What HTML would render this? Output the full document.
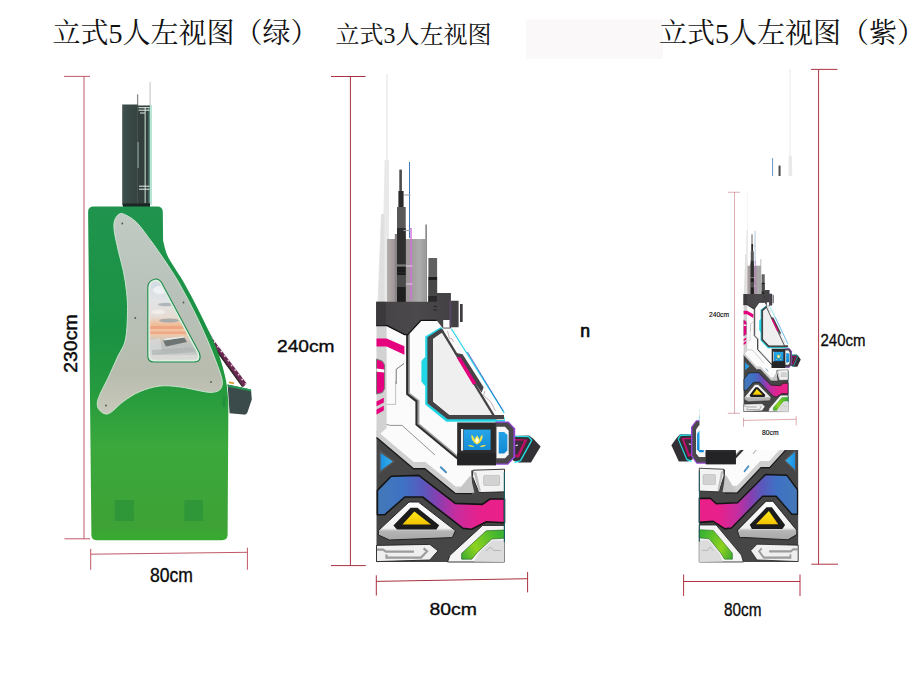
<!DOCTYPE html>
<html><head><meta charset="utf-8"><title>cabinet views</title>
<style>
html,body{margin:0;padding:0;background:#fff;overflow:hidden}
svg{display:block}
text{font-family:"Liberation Sans",sans-serif;fill:#0a0a0a}
</style></head>
<body>
<svg width="917" height="688" viewBox="0 0 917 688">
<defs>
<linearGradient id="ggreen" x1="0" y1="206" x2="0" y2="540" gradientUnits="userSpaceOnUse"><stop offset="0" stop-color="#20944e"/><stop offset=".38" stop-color="#1a9242"/><stop offset=".55" stop-color="#269a3e"/><stop offset=".72" stop-color="#3aa83c"/><stop offset=".96" stop-color="#3ea236"/><stop offset="1" stop-color="#36ac30"/></linearGradient>
<linearGradient id="gsilver" x1="0" y1="214" x2="0" y2="414" gradientUnits="userSpaceOnUse"><stop offset="0" stop-color="#c2cac4"/><stop offset=".4" stop-color="#b8c1ba"/><stop offset=".8" stop-color="#b8bcae"/><stop offset="1" stop-color="#c8c9ba"/></linearGradient>
<linearGradient id="gsign" x1="122" y1="0" x2="138" y2="0" gradientUnits="userSpaceOnUse"><stop offset="0" stop-color="#42524f"/><stop offset=".3" stop-color="#3a4a48"/><stop offset="1" stop-color="#364440"/></linearGradient>
<linearGradient id="gwin" x1="0" y1="280" x2="0" y2="362" gradientUnits="userSpaceOnUse"><stop offset="0" stop-color="#d2dae4"/><stop offset=".25" stop-color="#e2e4e6"/><stop offset=".45" stop-color="#e6dcd4"/><stop offset=".55" stop-color="#f0bc96"/><stop offset=".66" stop-color="#f2c8a6"/><stop offset=".72" stop-color="#d4c8ba"/><stop offset=".8" stop-color="#bcc0c0"/><stop offset="1" stop-color="#d2d4d0"/></linearGradient>
<linearGradient id="gmetal" x1="387" y1="0" x2="425.5" y2="0" gradientUnits="userSpaceOnUse"><stop offset="0" stop-color="#b4aeac"/><stop offset=".25" stop-color="#9a9192"/><stop offset=".6" stop-color="#a09a9a"/><stop offset=".85" stop-color="#adadad"/><stop offset="1" stop-color="#9a9a9a"/></linearGradient>
<linearGradient id="gcap" x1="376" y1="0" x2="459" y2="0" gradientUnits="userSpaceOnUse"><stop offset="0" stop-color="#454345"/><stop offset=".5" stop-color="#4b494b"/><stop offset="1" stop-color="#423f44"/></linearGradient>
<linearGradient id="gband" x1="378" y1="0" x2="504" y2="0" gradientUnits="userSpaceOnUse"><stop offset="0" stop-color="#4478b8"/><stop offset=".2" stop-color="#3e72c4"/><stop offset=".36" stop-color="#5a58bc"/><stop offset=".48" stop-color="#8a3eb0"/><stop offset=".62" stop-color="#c82c9e"/><stop offset=".8" stop-color="#e6208c"/><stop offset="1" stop-color="#ea2088"/></linearGradient>
<linearGradient id="gtri" x1="0" y1="503" x2="0" y2="542" gradientUnits="userSpaceOnUse"><stop offset="0" stop-color="#fdfdfd"/><stop offset=".65" stop-color="#f0f0f0"/><stop offset=".72" stop-color="#b5b5b5"/><stop offset="1" stop-color="#a4a4a4"/></linearGradient>
<linearGradient id="gyellow" x1="0" y1="512" x2="0" y2="525" gradientUnits="userSpaceOnUse"><stop offset="0" stop-color="#ffe81a"/><stop offset="1" stop-color="#f2c200"/></linearGradient>
<linearGradient id="gbluetri" x1="380" y1="0" x2="393" y2="0" gradientUnits="userSpaceOnUse"><stop offset="0" stop-color="#1a8ee0"/><stop offset="1" stop-color="#35b4f0"/></linearGradient>
<linearGradient id="ggreenel" x1="456" y1="560" x2="500" y2="534" gradientUnits="userSpaceOnUse"><stop offset="0" stop-color="#1f9e38"/><stop offset=".45" stop-color="#8fd21e"/><stop offset="1" stop-color="#3cb432"/></linearGradient>
<linearGradient id="gbluescr" x1="0" y1="429" x2="0" y2="452" gradientUnits="userSpaceOnUse"><stop offset="0" stop-color="#27a6ea"/><stop offset="1" stop-color="#138ad4"/></linearGradient>

<g id="cab">
<!-- tower -->
<rect x="386.5" y="74" width="1" height="92" fill="#e2e2e2"/>
<path d="M384.6 160H389V302H377.4L381 214H383.4Z" fill="#e9e9e9"/>
<path d="M381.4 214H384.4V302H378.2Z" fill="#dfdfdf"/>
<rect x="387" y="239" width="38.5" height="63" fill="url(#gmetal)"/>
<rect x="394.8" y="234" width="2.4" height="68" fill="#8b8587"/>
<rect x="399.3" y="169.6" width="2.6" height="22" fill="#4c4c4c"/>
<rect x="398.4" y="191" width="5.2" height="16.5" fill="#2a2a2a"/>
<rect x="397" y="207" width="8.7" height="95" fill="#585858"/>
<rect x="397" y="228" width="8.7" height="36.5" fill="#2e2e2e"/>
<rect x="397" y="264.5" width="8.7" height="2.2" fill="#7a7a7a"/>
<rect x="397" y="266.7" width="8.7" height="6" fill="#1c1c1c"/>
<rect x="397" y="272.7" width="8.7" height="2.5" fill="#1c1c1c"/>
<rect x="397" y="275.2" width="8.7" height="12" fill="#4a4a4a"/>
<rect x="397" y="287" width="8.7" height="15" fill="#1e1e1e"/>
<line x1="409.5" y1="162" x2="409.5" y2="238" stroke="#3b78b4" stroke-width="1"/>
<line x1="411" y1="228" x2="411" y2="300" stroke="#d070dc" stroke-width="1.4"/>
<path d="M403.5 195H410.5M403.5 230.5H410.5" stroke="#9aa4b0" stroke-width="1"/>
<path d="M406 266H412.5M406 284H412.5" stroke="#e8c8f0" stroke-width="1.2"/>
<rect x="425.3" y="224.5" width="1.7" height="78" fill="#8c8c8c"/>
<rect x="428.4" y="258" width="8.7" height="44" fill="#606060"/>
<rect x="428.4" y="277" width="8.7" height="3.4" fill="#1e1e1e"/>
<rect x="428.4" y="280.4" width="8.7" height="21.6" fill="#474747"/>
<rect x="428.4" y="296" width="8.7" height="6" fill="#2a2a2a"/>
<!-- body silhouette (white) -->
<path d="M376.5 320H452L504 414.5L504.5 472V562H376.5Z" fill="#fbfbfb"/>
<!-- left gray column -->
<path d="M376.5 325H386.6V428L376.5 437Z" fill="#d2d2d2"/>
<!-- pink stripes -->
<path d="M376.5 338.5H386.6L404.4 346.2V354.8L386.6 346.6H376.5Z" fill="#e5007e"/>
<path d="M376.5 359L382.4 361.2L384.6 365V388.5L382.4 392.6L376.5 394Z" fill="#e5007e" stroke="#7a7a7a" stroke-width="1"/>
<path d="M376.5 368.6L384.2 369.6V372.6L376.5 371.8Z" fill="#fff"/>
<path d="M376.5 401.5L383.8 397.8V402.4L376.5 406.2Z" fill="#e5007e"/>
<path d="M376.5 409.6L383.8 405.8V410.6L376.5 414.4Z" fill="#e5007e"/>
<!-- inner thin lines -->
<path d="M404 363.5L396.2 369.3V384" stroke="#555" stroke-width=".8" fill="none"/>
<path d="M386.7 404.4H395.6V381" stroke="#999" stroke-width=".6" fill="none"/>
<!-- boundary thick line left panel / window surround -->
<path d="M409 334V393.5L418.4 400.8V424L458 457" stroke="#a0a0a0" stroke-width="2" fill="none"/>
<path d="M407.2 334V394L416.5 401.3V424.6L457.5 458.5" stroke="#2e2e2e" stroke-width="2.2" fill="none"/>
<!-- cyan around window -->
<path d="M425.2 336.6L441 327.1L443.5 330L431 340V402.5L449 417.5H505V421.7H446.4L425.2 404.4Z" fill="#22d6e6"/>
<path d="M442 328.6L451.4 328.8L504.3 413L504.3 420H497Z" fill="#fcfcfc"/>
<path d="M451.4 328.8L504.3 413" stroke="#22d6e6" stroke-width="1.2"/>
<path d="M421.4 361L424.5 357.5H428V385.5H424.5L421.4 381.5Z" fill="#22d6e6"/>
<!-- blue thin line -->
<path d="M467.4 352L503.3 411" stroke="#2a4cc4" stroke-width=".8"/>
<path d="M447.5 331L449.5 338.5L452 338.8L453.5 342" stroke="#8a6a6a" stroke-width=".5" fill="none"/>
<path d="M485 391L483.5 395.5L490.5 401.5L495.5 411" stroke="#8a6a6a" stroke-width=".5" fill="none"/>
<!-- window frame dark -->
<path d="M427.4 337.2L441 328.4L444 331.6L433 339V401.5L449.6 415H504V419.2H447.6L427.4 403.2Z" fill="#454345"/>
<path d="M433 339L441.5 333L491.8 415H449.6L433 401.4Z" fill="#efefef"/>
<path d="M441.2 329.4L494 416" stroke="#454345" stroke-width="2.4"/>
<path d="M454 352.6L462.6 354.2L483.6 387.2L481.6 392.4Z" fill="#454345"/>
<path d="M456.8 357.8L460.4 357L476.4 383.2L473 384.8Z" fill="#e5007e"/>
<!-- lower dark region -->
<path d="M376.5 437.5L413.5 468.8H424.8L455 493.4L472 493.6L471.2 470.5H504.5V562H376.5Z" fill="#464646"/>
<!-- light gray bevel above dark region -->
<path d="M376.5 430.5L413.8 462H425.4L455.6 486.6L469.5 486.8L472.5 493.6L455 493.4L424.8 468.8H413.5L376.5 437.5Z" fill="#cfcfcf"/>
<path d="M376.5 437.5L413.5 468.8H424.8L455 493.4L472 493.6" stroke="#1a1a1a" stroke-width="1.4" fill="none"/>
<path d="M386.6 424.5L390.5 425.4H402L435 455" stroke="#666" stroke-width=".7" fill="none"/>
<path d="M440.8 467.2L446 472.2" stroke="#4a90c0" stroke-width="2" stroke-linecap="round"/>
<path d="M470.4 475.4L474.4 492.8L456 493Z" fill="#c6c6c6"/>
<!-- blue triangle -->
<path d="M379.4 449.5L395.2 461.6L379.4 473.5Z" fill="#565656"/>
<path d="M380.6 453L392.8 461.6L380.6 470.6Z" fill="url(#gbluetri)"/>
<!-- color band -->
<path d="M377.4 490.4L391.2 476.2L418.8 475.4L455.2 503.4L482.4 504.4L490 499H504.5V522.8L486.4 521.8L471.6 529.2L463 528.4L422.6 497L404.8 497L384.6 514.8H377.4Z" fill="url(#gband)" stroke="#141414" stroke-width="1.6" stroke-linejoin="round"/>
<!-- triangle element -->
<path d="M409 502H418.4L455.4 530.6L452.4 537.6L389.5 540L378.4 535V530.6Z" fill="url(#gtri)" stroke="#222" stroke-width="1" stroke-linejoin="round"/>
<path d="M410.8 506.5H421.5L448 531L380.6 534Z" fill="#fafafa" opacity=".0"/>
<path d="M410.6 507.8H417.4L439.2 525.2L436.4 529.4H397L393.4 525.4Z" fill="#1c1c1c"/>
<path d="M414.4 511.6L431 524.6H402.4Z" fill="url(#gyellow)"/>
<!-- bottom-left white G element -->
<path d="M376.5 545.4L429.8 544.4L438 550.8L429.8 560L376.5 561.6Z" fill="#efefef" stroke="#222" stroke-width=".9"/>
<path d="M377 549.6H383L386 551.6H414M386.5 554.4V557.6H421L427 551.4L423.6 548.4" fill="none" stroke="#9c9c9c" stroke-width="2.2"/>
<!-- green element bottom right -->
<path d="M447.5 562L450 555.2L482.6 525.4H504.5V562Z" fill="#f4f4f4" stroke="#222" stroke-width=".9"/>
<path d="M461.6 559.2V553.4L486.2 530.8L504.5 530V538.2L491.8 539L477.2 552.6L471.8 559.2Z" fill="url(#ggreenel)" stroke="#1c5a1c" stroke-width=".6"/>
<path d="M474 561.5L478.6 553.2L492.4 540.4H504.5V562Z" fill="#dcdcdc"/>
<path d="M486 551L490.5 547L493.5 550.5H501" stroke="#aaa" stroke-width=".8" fill="none"/>
<!-- white block under housing -->
<path d="M473 470.2L504.5 469.2V491.8L479 492.6L472.4 476.4Z" fill="#f3f3f3" stroke="#222" stroke-width=".9"/>
<path d="M473.4 472L476.4 472.4L481 491.6L479 492Z" fill="#bdbdbd"/>
<rect x="483.6" y="475.4" width="16" height="10" rx="1" fill="#d2d2d2" stroke="#aaa" stroke-width=".5"/>
<!-- right edge line -->
<rect x="503.8" y="472" width="1.2" height="70" fill="#1a5a60"/>
<!-- cap -->
<path d="M376.2 301.8H437V293H450.9V300.8H458.6V327.2H451.5L450.5 328.6H443L436.8 320.4H421L407.8 334.8H404.6L386.6 325.8H376.2Z" fill="url(#gcap)"/>
<path d="M376.2 325.5H386.6L404.6 334.6H407.8L421 320.3H436.8" stroke="#111" stroke-width="1.3" fill="none"/>
<rect x="376.2" y="301.8" width="9.6" height="23.6" fill="#3b393b"/>
<rect x="443.2" y="320" width="6.6" height="7.6" fill="#fff"/>
<rect x="460" y="304" width="2.7" height="18" fill="#3e3c40"/>
<path d="M433.5 306.5H437M433.5 310H437" stroke="#222" stroke-width="1.2"/>
<rect x="449.6" y="301" width="1.6" height="26" fill="#5a4868"/>
<!-- joystick -->
<path d="M513 435.9L529.2 435.5L533.6 439L540.6 446.4L531 462.6H518.8L513 460.4Z" fill="#323034"/>
<path d="M515 439L527.5 439.4L518.8 457.8L515 456.8Z" fill="#c0106a"/>
<path d="M515 440.6L524.2 440.4L517.4 455L515 454.4Z" fill="#3a2c3a"/>
<path d="M514.5 436.4L528.8 436.6L531.7 440.3L520.5 460.6L514.5 462.4" stroke="#22dce6" stroke-width="1.4" fill="none" stroke-linejoin="round"/>
<path d="M515.5 445.6L518 445" stroke="#fff" stroke-width="1"/>
<!-- housing -->
<path d="M495.6 421.6H508.6L515.2 428.4V457.2L508 464.8H495.6Z" fill="#9344d4"/>
<path d="M457.2 422.6H496V465.2H457.2Z" fill="#2c2c2e"/>
<path d="M495.7 422.8H508L513.4 428.6V456.8L507.4 463.6H495.7Z" fill="#4a484b"/>
<path d="M496.5 426.8H505L508.7 430.8V454.4L505 458.2H496.5Z" fill="#f6f6f6"/>
<path d="M498.7 432H504.2L507.4 435V450.4L504.2 453.4H498.7Z" fill="url(#gbluescr)"/>
<rect x="461" y="429" width="2.2" height="21.6" fill="#f0f0f0"/>
<rect x="463.6" y="429.6" width="27" height="20.4" fill="url(#gbluescr)"/>
<path d="M471.5 434.6Q470.5 441.5 477 444.6Q483.5 441.5 482.5 434.6Q480 436 479.8 439.6L477 435.2L474.2 439.6Q474 436 471.5 434.6Z" fill="#f2e24a"/>
<path d="M477 437.2L478.8 440.6L477 443.4L475.2 440.6Z" fill="#fff"/>
<path d="M467.8 445.2Q471.5 444.2 474.5 446.6Q470.5 447.6 467.8 445.2ZM486.2 445.2Q482.5 444.2 479.5 446.6Q483.5 447.6 486.2 445.2Z" fill="#f2e24a"/>
<rect x="457.2" y="453" width="38.8" height="12.2" fill="#242426"/>
</g>

<g id="mid">
<g stroke="#a83040" stroke-width="1" fill="none"><path d="M331 76.5H365.5M350.4 76.5V565.6M331 565.6H365.8"/><path d="M376.3 581.4L527.6 578.7M376.3 575.3V595.5M527.6 572V592.4"/></g>
<use href="#cab"/>
<text x="277" y="351.5" font-size="16.3" textLength="57.5" lengthAdjust="spacingAndGlyphs" stroke="#0a0a0a" stroke-width=".35">240cm</text>
<text x="429.5" y="614.6" font-size="17.2" textLength="47.5" lengthAdjust="spacingAndGlyphs" stroke="#0a0a0a" stroke-width=".35">80cm</text>
</g>
</defs>
<rect width="917" height="688" fill="#fff"/>
<rect x="526" y="19.5" width="137" height="39.5" fill="#fbf8f9"/>
<!-- titles -->
<text x="52.5" y="43" font-size="28" textLength="266" lengthAdjust="spacingAndGlyphs" style="font-family:'Liberation Serif','Noto Serif CJK SC',serif;fill:#111">立式5人左视图（绿）</text>
<text x="335.5" y="42.5" font-size="24" textLength="156" lengthAdjust="spacingAndGlyphs" style="font-family:'Liberation Serif','Noto Serif CJK SC',serif;fill:#111">立式3人左视图</text>
<text x="659" y="43" font-size="28" textLength="266" lengthAdjust="spacingAndGlyphs" style="font-family:'Liberation Serif','Noto Serif CJK SC',serif;fill:#111">立式5人左视图（紫）</text>
<g stroke="#c05868" stroke-width="1" fill="none"><path d="M64 76.4H90M84 76.4V538.8M64.5 538.8H90"/><path d="M90.7 554.2L247.4 552.3M90.7 548.8V569.8M247.4 547.7V569.8"/></g>
<g>
<line x1="150.1" y1="82" x2="150.1" y2="106" stroke="#cfcfcf" stroke-width="1.3"/>
<line x1="137.6" y1="94.3" x2="137.6" y2="106" stroke="#8a8a8a" stroke-width="1.3"/>
<rect x="149.2" y="105" width="2.8" height="100" fill="#a8dcc8" opacity=".8"/>
<rect x="122.2" y="104.5" width="15.6" height="101" fill="url(#gsign)"/>
<rect x="137.5" y="105.5" width="12.3" height="100" fill="#333f3c"/>
<rect x="137.4" y="142" width="1.4" height="26" fill="#8fa8a0" opacity=".8"/>
<rect x="144.6" y="107" width="1.1" height="96" fill="#c4d6ce"/>
<rect x="148.6" y="107" width="1.2" height="96" fill="#5a9884"/>
<path d="M138.5 107.7H149.5M138.5 110.2H149.5M140 113H145M139 186.2H149.5M139 189.2H149.5" stroke="#e8f0ec" stroke-width="1"/>
<rect x="123" y="203.5" width="27" height="3.5" fill="#1c2624"/>
</g>
<g>
<path d="M212.5 338.5L246.5 383.2L243.5 387L209.8 342Z" fill="#6e2a54"/>
<path d="M208 331L212.5 338.5" stroke="#8a7a80" stroke-width="1"/>
<path d="M214 341.5L245.5 384" stroke="#e8dce2" stroke-width="1.4" stroke-dasharray="1.6 4.2"/>
<path d="M210.5 342L242.6 386.6" stroke="#2a2222" stroke-width="1.5"/>
<path d="M227.6 384.6L251 389.6L251.8 399.5L247.4 412.6Q246.6 415 243.5 414.6L229.6 413.2Z" fill="#3b4a4b"/>
<path d="M227.6 384.6L251 389.6L251.2 391.6L227.8 386.8Z" fill="#259850"/>
<path d="M229 382.4L234 383.2" stroke="#d89020" stroke-width="1.6"/>
</g>
<path d="M93.5 206.5H157.5Q162.6 206.5 162.8 212L163.1 240.7C163.8 243.1 165.3 250.6 167.2 255C169.1 259.4 171.8 263 174.3 267.2C176.8 271.4 179.2 274.5 182.4 280C185.6 285.5 190 293.6 193.6 300.4C197.2 307.2 200.5 313.9 203.8 320.7C207.1 327.5 210.5 334.3 213.4 341.1C216.3 347.9 219 354.7 221.1 361.5C223.2 368.3 225 375.1 226.2 381.8C227.4 388.6 228 398.6 228.4 402L227.6 535Q227.4 540.2 222 540.2H96.5Q91.6 540.2 91.4 535L88.1 212Q88.1 206.5 93.5 206.5Z" fill="url(#ggreen)"/>
<rect x="114.7" y="500" width="19.3" height="21" fill="#2c9438" opacity=".8"/><rect x="184.4" y="500" width="18.6" height="21" fill="#2c9438" opacity=".8"/>
<rect x="222.6" y="396" width="2.6" height="11" rx="1" fill="#1f8a3a" opacity=".7"/>
<path d="M119 214.2C120.7 213.2 121.6 213 124.5 214.4C127.4 215.8 132.2 218 136.6 222.4C141 226.8 146.8 235.3 150.9 240.7C155 246.1 157.6 250.1 161 255C164.4 259.9 168.5 266 171.2 270.2C173.9 274.4 174.4 275 177.3 280C180.2 285 184.9 293.6 188.5 300.4C192.1 307.2 195.5 313.9 198.7 320.7C201.9 327.5 205 334.3 207.9 341.1C210.8 347.9 213.8 355.7 216 361.5C218.2 367.3 220 371.9 221.1 375.7C222.2 379.4 222.6 381.6 222.3 384C222 386.4 221.2 388.9 219.3 390.3C217.4 391.7 214 392.3 210.9 392.4C207.8 392.5 205.8 391.9 200.7 391C195.6 390.1 187.2 387.8 180.4 387C173.6 386.2 166.7 385.2 160 386C153.3 386.8 146 389 140 391.5C134 394 128.7 397.7 124 401C119.3 404.3 115.1 409.3 112 411.5C108.9 413.7 107.7 414.3 105.5 414C103.3 413.7 100.4 411.4 99 409.5C97.6 407.6 97 405.4 97.3 402.5C97.6 399.6 99.1 396.2 101 392C102.9 387.8 105.8 382.8 108.5 377C111.2 371.2 114.7 363.2 117.5 357C120.3 350.8 123.7 347.5 125.4 340C127.1 332.5 127.3 320 127.5 311.9C127.7 303.8 127.2 298.4 126.5 291.6C125.8 284.8 124.8 278 123.4 271.2C122 264.4 119.8 257.7 118.3 250.9C116.8 244.1 114.8 235.6 114.2 230.5C113.6 225.4 113.8 223.1 114.6 220.4C115.4 217.7 117.3 215.2 119 214.2Z" fill="url(#gsilver)" stroke="#cfe8d2" stroke-width=".9"/>
<circle cx="122.3" cy="223.5" r="0.9" fill="#555"/>
<circle cx="135.3" cy="318" r="0.9" fill="#555"/>
<circle cx="183.5" cy="302.5" r="0.9" fill="#555"/>
<circle cx="211" cy="382" r="0.9" fill="#555"/>
<circle cx="106" cy="405.5" r="0.9" fill="#555"/>
<path d="M154.6 279.2Q158.5 278.2 161.4 282.3L199.4 353Q202.2 362 194 362H154Q147.8 362 147.8 356V287Q148 280.8 154.6 279.2Z" fill="#dfeee2" stroke="#1f8c4c" stroke-width="1.1"/>
<clipPath id="cwin"><path d="M155 281.6Q158 281 160 284L197 353Q199.2 359.6 193.5 359.6H154.5Q150.2 359.6 150.2 355.5V288Q150.4 282.6 155 281.6Z"/></clipPath>
<g clip-path="url(#cwin)">
<rect x="148" y="278" width="56" height="86" fill="url(#gwin)"/>
<ellipse cx="160" cy="290" rx="7" ry="4" fill="#f4f4f6" opacity=".8"/>
<ellipse cx="166" cy="304.5" rx="8" ry="1.8" fill="#a4acb4" opacity=".8"/>
<ellipse cx="158" cy="312" rx="7" ry="2.5" fill="#f2f0ee" opacity=".8"/>
<ellipse cx="169" cy="320.5" rx="10" ry="2" fill="#9aa2a8" opacity=".8"/>
<path d="M150 326H182L184 329H150ZM150 331.5H186L187.5 334H150Z" fill="#ee9a78" opacity=".7"/>
<path d="M163 340.5L184 337.2L187 342L166 346.5Z" fill="#6c7474"/>
<path d="M165 338.6L184 336.2L184.5 337.4L164 340.6Z" fill="#e8e8e4"/>
<path d="M150 340L160 338L162 352L150 356Z" fill="#d8dcdc" opacity=".7"/>
<path d="M152 350L196 347L197 352L152 355Z" fill="#aab0ae" opacity=".6"/>
<path d="M150 355H200V360H150Z" fill="#dcdcd8" opacity=".8"/>
<path d="M166 292L198 352" stroke="#b4f0c4" stroke-width="3.5" opacity=".75"/>
</g>
<text transform="translate(77.3 372.8) rotate(-90)" font-size="19.2" textLength="58.4" lengthAdjust="spacingAndGlyphs" stroke="#0a0a0a" stroke-width=".45">230cm</text>
<text x="150" y="582.1" font-size="20.5" textLength="43" lengthAdjust="spacingAndGlyphs" stroke="#0a0a0a" stroke-width=".35">80cm</text>
<use href="#mid"/>

<g transform="matrix(-0.7727 0 0 1.0102 1089.1 -5.76)"><use href="#cab"/></g>
<rect x="699.5" y="176" width="104" height="274" fill="#fff"/>
<clipPath id="cmini"><rect x="699.5" y="176" width="104" height="274"/></clipPath>
<g clip-path="url(#cmini)"><g transform="matrix(0.348 0 0 0.4519 612.6 157.7)"><use href="#mid"/></g></g>
<g stroke="#b03444" stroke-width="1" fill="none"><path d="M811 69.4H837.4M818.6 69.4V564.2M811.3 564.2H838"/><path d="M683.6 581.5H800M683.6 574.5V596M800 574.5V596"/></g>
<text x="820.5" y="345.9" font-size="16.3" textLength="45" lengthAdjust="spacingAndGlyphs" stroke="#0a0a0a" stroke-width=".3">240cm</text>
<text x="724" y="616.3" font-size="17.5" textLength="37.5" lengthAdjust="spacingAndGlyphs" stroke="#0a0a0a" stroke-width=".3">80cm</text>
<text x="580.2" y="336.8" font-size="17.6" stroke="#0a0a0a" stroke-width=".7">n</text>

</svg>
</body></html>
